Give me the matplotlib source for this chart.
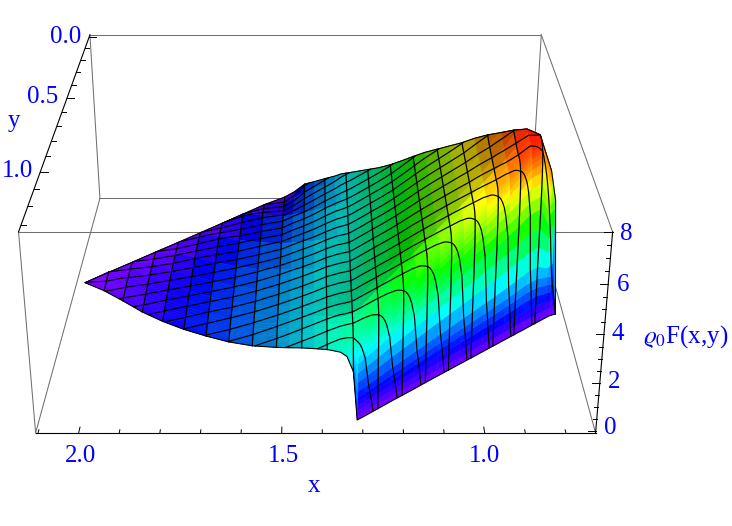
import numpy as np
import matplotlib
matplotlib.use('Agg')
import matplotlib.pyplot as plt
from matplotlib.colors import hsv_to_rgb

plt.rcParams['font.family'] = ['Liberation Serif', 'DejaVu Serif']
plt.rcParams['mathtext.fontset'] = 'stix'

# columns of the surface, x = const
x_grid = [.75, .768, .782, .814, .846, .878, .909, .941, .973, 1.005, 1.037, 1.069,
          1.101, 1.133, 1.164, 1.196, 1.228, 1.26, 1.292, 1.313, 1.324, 1.34, 1.356, 1.388, 1.419,
          1.451, 1.483, 1.515, 1.578, 1.641, 1.704, 1.767, 1.83, 1.893, 1.956, 2.019, 2.08]
# y limits of the surface on each column
y_back = [.75, .732, .718, .686, .654, .622, .591, .559, .527, .495, .463, .431,
          .399, .367, .336, .304, .272, .24, .208, .187, .176, .16, .144, .112, .081,
          .049, .017, 0, .063, .126, .189, .252, .315, .378, .441, .504, .565]
y_front = [.75, .76, .773, .804, .835, .866, .896, .927, .958, .989, 1.02, 1.051,
           1.082, 1.113, 1.144, 1.175, 1.206, 1.238, 1.27, 1.29, 1.295, 1.298, 1.30, 1.27, 1.245,
           1.22, 1.195, 1.17, 1.12, 1.065, 1.005, .94, .87, .79, .705, .62, .565]
# rows: distance behind the front limit
delta_strip = [0, .002, .004, .006, .008, .01, .013, .016, .019, .022, .026, .03, .035, .04, .045,
               .05, .056, .063, .07, .08, .09, .105]
delta_back = [.12, .16, .22, .32, .45, .65, .9, 1.1, 1.35]

# share of the crest height reached at each strip row
cliff_profile = [0, .05, .105, .16, .21, .26, .33, .44, .55, .66, .73, .8, .86, .9, .93,
                 .95, .965, .98, .99, .995, 1, 1]
# height at the front limit, by column
front_edge = [0, 0, 0, 0, 0, 0, 0, 0, 0, 0, 0, 0,
              0, 0, 0, 0, 0, 0, 0, 0, 2.1, 2.75, 2.95, 2.8, 2.62,
              2.44, 2.23, 2.03, 1.67, 1.37, 1.12, .87, .65, .42, .25, .05, 0]
# the two narrowest columns have no room for the whole strip
strip_768 = [0, .35, .7, 1.05, 1.4, 1.75, 2.3, 2.8, 3.4, 3.9, 4.7, 5, 5, 5, 5, 5, 5, 5, 5, 5, 5, 5]
strip_782 = [0, .35, .7, 1.1, 1.45, 1.8, 2.2, 2.9, 3.5, 4.0, 4.5, 4.9, 5.3, 5.6, 5.8, 6.0,
             6.2, 6.2, 6.2, 6.2, 6.2, 6.2]

# height behind the strip, one line per column, first value is the crest
z_back = [
    [0, 0, 0, 0, 0, 0, 0, 0, 0],
    [5, 5, 5, 5, 5, 5, 5, 5, 5],
    [6.2, 6.2, 6.2, 6.2, 6.2, 6.2, 6.2, 6.2, 6.2],
    [7.55, 7.55, 7.55, 7.55, 7.55, 7.55, 7.55, 7.55, 7.55],
    [7.5, 7.55, 7.6, 7.6, 7.6, 7.6, 7.6, 7.6, 7.6],
    [7.1, 7.15, 7.3, 7.35, 7.35, 7.35, 7.35, 7.35, 7.35],
    [6.75, 6.8, 6.9, 7.05, 7.05, 7.05, 7.05, 7.05, 7.05],
    [6.45, 6.5, 6.55, 6.65, 6.75, 6.75, 6.75, 6.75, 6.75],
    [6.17, 6.2, 6.25, 6.3, 6.4, 6.4, 6.4, 6.4, 6.4],
    [5.9, 5.9, 5.92, 5.95, 5.98, 6.0, 6.0, 6.0, 6.0],
    [5.63, 5.63, 5.63, 5.64, 5.64, 5.65, 5.65, 5.65, 5.65],
    [5.35, 5.35, 5.34, 5.33, 5.32, 5.3, 5.3, 5.3, 5.3],
    [5.08, 5.07, 5.06, 5.03, 5.0, 4.96, 4.95, 4.95, 4.95],
    [4.81, 4.79, 4.77, 4.73, 4.68, 4.6, 4.55, 4.55, 4.55],
    [4.55, 4.53, 4.5, 4.44, 4.36, 4.25, 4.15, 4.15, 4.15],
    [4.27, 4.24, 4.2, 4.13, 4.04, 3.9, 3.75, 3.75, 3.75],
    [4.0, 3.97, 3.93, 3.85, 3.75, 3.6, 3.43, 3.4, 3.4],
    [3.73, 3.7, 3.65, 3.58, 3.48, 3.33, 3.15, 3.1, 3.1],
    [3.46, 3.43, 3.39, 3.31, 3.2, 3.05, 2.88, 2.8, 2.8],
    [3.28, 3.25, 3.2, 3.12, 3.02, 2.87, 2.7, 2.6, 2.6],
    [3.2, 3.17, 3.12, 3.04, 2.93, 2.78, 2.62, 2.52, 2.5],
    [3.14, 3.1, 3.05, 2.98, 2.88, 2.72, 2.52, 2.38, 2.35],
    [3.07, 3.05, 3.0, 2.93, 2.82, 2.67, 2.43, 2.2, 2.15],
    [2.87, 2.85, 2.82, 2.75, 2.65, 2.45, 2.15, 1.87, 1.8],
    [2.65, 2.63, 2.6, 2.52, 2.42, 2.2, 1.85, 1.55, 1.45],
    [2.44, 2.42, 2.38, 2.3, 2.2, 1.98, 1.55, 1.2, 1.1],
    [2.23, 2.21, 2.17, 2.1, 2.0, 1.75, 1.3, .7, .5],
    [2.03, 2.01, 1.97, 1.9, 1.8, 1.5, 1.0, .3, .1],
    [1.67, 1.65, 1.61, 1.55, 1.45, 1.2, .75, .15, .15],
    [1.37, 1.35, 1.31, 1.25, 1.15, .9, .4, .12, .12],
    [1.12, 1.1, 1.07, 1.0, .9, .65, .1, .1, .1],
    [.87, .85, .82, .75, .65, .25, .08, .08, .08],
    [.65, .63, .6, .5, .3, .06, .06, .06, .06],
    [.42, .4, .35, .22, .05, .05, .05, .05, .05],
    [.25, .2, .13, .03, .03, .03, .03, .03, .03],
    [.05, .02, .02, .02, .02, .02, .02, .02, .02],
    [0, 0, 0, 0, 0, 0, 0, 0, 0],
]

# how bright the surface looks behind the crease, by column
column_light = [1, 1, 1, .95, .88, .78, .72, .7, .7, .7, .7, .7,
                .7, .7, .7, .7, .7, .7, .7, .7, .72, .725, .73, .75, .76,
                .78, .8, .82, .88, .92, .95, .97, .99, 1, 1, 1, 1]
# the strip in front of the crease is lit fully
light_back_rows = [.85, .3, .05, 0, 0, 0, 0, 0, 0]
strip_columns = [1, 1, 1, 1, 1, 1, 1, 1, 1, 1, 1, 1,
                 1, 1, 1, 1, 1, 1, 1, 1, .95, .9, .85, .4, .1,
                 0, 0, 0, 0, 0, 0, 0, 0, 0, 0, 0, 0]

# mesh lines
mesh_x = [.814, .878, .941, 1.005, 1.069, 1.133, 1.196, 1.26, 1.324, 1.388, 1.451, 1.515,
          1.578, 1.641, 1.704, 1.767, 1.83, 1.893, 1.956, 2.019]
mesh_y = [.0625, .125, .1875, .25, .3125, .375, .4375, .5, .5625, .625, .6875, .75,
          .8125, .875, .9375, 1.0, 1.0625, 1.125, 1.1875, 1.25]

# box and ticks
x_lim = (.727, 2.106)
y_lim = (-.019, 1.338)
z_lim = (-.1, 8.02)
x_major = [1.0, 1.5, 2.0]
x_minor = [.8, .9, 1.1, 1.2, 1.3, 1.4, 1.6, 1.7, 1.8, 1.9, 2.1]
y_major = [0.0, .5, 1.0]
y_minor = [.1, .2, .3, .4, .6, .7, .8, .9, 1.1, 1.2, 1.3]
z_major = [0, 2, 4, 6, 8]
z_minor = [.5, 1, 1.5, 2.5, 3, 3.5, 4.5, 5, 5.5, 6.5, 7, 7.5]

x_labels = ['2.0', '1.5', '1.0']
y_labels = ['0.0', '0.5', '1.0']
z_labels = ['8', '6', '4', '2', '0']
x_label_pos = [(80, 456), (283, 456), (484, 456)]
y_label_pos = [(66, 37), (43, 97), (17, 171)]
z_label_pos = [(626, 234), (623, 285), (618, 334), (614, 382), (610, 428)]

xs = np.array(x_grid)
delta = np.array(delta_strip + delta_back)
back = np.array(z_back, dtype=float)
edge = np.array(front_edge, dtype=float)[:, None]
crest = back[:, :1]
strip_z = edge + (crest - edge) * np.array(cliff_profile)[None, :]
strip_z[1] = strip_768
strip_z[2] = strip_782

X = np.repeat(xs[:, None], len(delta), axis=1)
Y = np.maximum(np.array(y_back)[:, None], np.array(y_front)[:, None] - delta[None, :])
Z = np.hstack([strip_z, back])

# hue runs from violet at 0 to red at the top
z_face = Z.copy()
z_face[:-1, :-1] = (Z[:-1, :-1] + Z[1:, :-1] + Z[:-1, 1:] + Z[1:, 1:]) / 4
hue = .75 * (1 - np.clip(z_face / 7.7, 0, 1))
base = np.array(column_light)[:, None]
rows_lit = np.array([1] * len(delta_strip) + light_back_rows)
strip = np.array(strip_columns)[:, None] * rows_lit[None, :]
value = base + (1 - base) * strip
colors = hsv_to_rgb(np.dstack([hue, np.ones_like(hue), value]))

fig = plt.figure(figsize=(7.32, 5.26), dpi=100)
ax = fig.add_axes([-3.3 / 732, -5.4 / 526, 621 / 732, 621 / 526], projection='3d', computed_zorder=False)
ax.set_axis_off()

ax.plot_surface(X, Y, Z, rstride=1, cstride=1, facecolors=colors, shade=False, linewidth=.4, zorder=2)

for i, x in enumerate(x_grid):
    if x in mesh_x:
        ax.plot(X[i], Y[i], Z[i], color='k', lw=.9, zorder=3)
ax.contour(X, Y, Z, levels=mesh_y, zdir='y', colors='k', linewidths=.85, zorder=3)

# outline of the surface
ax.plot(X[:, 0], Y[:, 0], Z[:, 0], color='k', lw=.8, zorder=3)
ax.plot(X[:, -1], Y[:, -1], Z[:, -1], color='k', lw=.8, zorder=3)

x0, x1 = x_lim
y0, y1 = y_lim
z0, z1 = z_lim
gray = '#707070'
# back and hidden edges first
for a, b in [((x0, y0, z1), (x1, y0, z1)), ((x0, y1, z1), (x1, y1, z1)),
             ((x0, y0, z1), (x0, y1, z1)), ((x0, y0, z0), (x1, y0, z0)),
             ((x0, y0, z0), (x0, y1, z0)), ((x1, y0, z0), (x1, y1, z0)),
             ((x0, y0, z0), (x0, y0, z1)), ((x1, y0, z0), (x1, y0, z1)),
             ((x1, y1, z0), (x1, y1, z1))]:
    ax.plot(*zip(a, b), color=gray, lw=.75, zorder=1)

# axis lines with ticks
ax.plot([x0, x1], [y1, y1], [z0, z0], color='k', lw=.8, zorder=4)
ax.plot([x1, x1], [y0, y1], [z1, z1], color='k', lw=.8, zorder=4)
ax.plot([x0, x0], [y1, y1], [z0, z1], color='k', lw=.8, zorder=4)
for v, size in [(t, .026) for t in x_major] + [(t, .014) for t in x_minor]:
    ax.plot([v, v], [y1, y1 - size], [z0, z0], color='k', lw=.7, zorder=4)
for v, size in [(t, .02) for t in y_major] + [(t, .011) for t in y_minor]:
    ax.plot([x1, x1 - size], [v, v], [z1, z1], color='k', lw=.7, zorder=4)
for v, size in [(t, .02) for t in z_major] + [(t, .01) for t in z_minor]:
    ax.plot([x0, x0 + size], [y1, y1], [v, v], color='k', lw=.7, zorder=4)

ax.set_xlim(x_lim)
ax.set_ylim(y_lim)
ax.set_zlim(z_lim)
ax.set_box_aspect((1, .99, .4), zoom=1.143)
ax.set_proj_type('persp', focal_length=.5)
ax.view_init(elev=25.5, azim=90)


def label(text, pos, size=18):
    fig.text(pos[0] / 732, 1 - pos[1] / 526, text, color='#0000ff', fontsize=size,
             ha='center', va='center')


for text, pos in zip(x_labels + y_labels + z_labels, x_label_pos + y_label_pos + z_label_pos):
    label(text, pos)
label('x', (314, 486))
label('y', (14, 121))
label(r'$\varrho_0$F(x,y)', (686, 337))

fig.savefig('out.png', dpi=100)
